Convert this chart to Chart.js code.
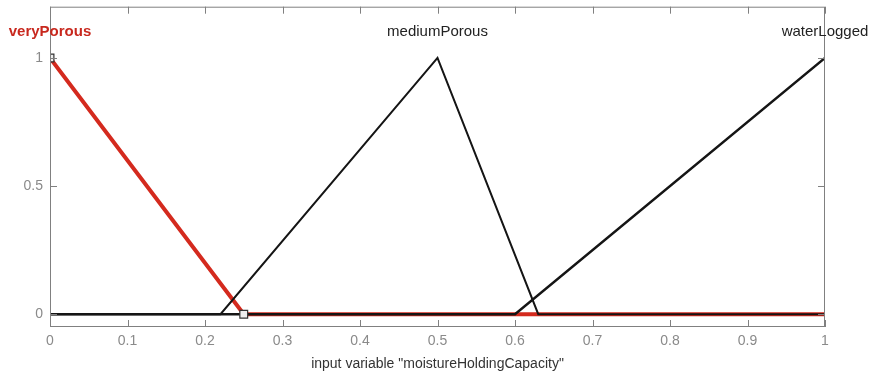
<!DOCTYPE html>
<html>
<head>
<meta charset="utf-8">
<script src="https://cdn.jsdelivr.net/npm/chart.js@4"></script>
<style>
  body { margin: 0; background: #fff; }
  canvas { display: block; }
</style>
</head>
<body>
<canvas id="chart_mf" width="875" height="377"></canvas>
<script>
// membership function names and their peak positions (for labels)
const mfNames = ["veryPorous", "mediumPorous", "waterLogged"];
const mfPeaks = [0, 0.5, 1];

// breakpoints of each membership function
const veryPorousX = [0, 0.25, 1];
const veryPorousY = [1, 0, 0];
const mediumPorousX = [0, 0.22, 0.5, 0.63, 1];
const mediumPorousY = [0, 0, 1, 0, 0];
const waterLoggedX = [0, 0.6, 1];
const waterLoggedY = [0, 0, 1];

// selection handles on the active function
const handleX = [0, 0.25];
const handleY = [1, 0];

const xTicks = [0, 0.1, 0.2, 0.3, 0.4, 0.5, 0.6, 0.7, 0.8, 0.9, 1];
const yTicks = [0, 0.5, 1];
const xTitle = 'input variable "moistureHoldingCapacity"';

const RED = "#d42a1e";
const FRAME = "#808080";

function toPoints(xs, ys) {
    return xs.map((x, i) => ({ x: x, y: ys[i] }));
}

// draws the boxed frame with inward ticks and the MF names
const framePlugin = {
    id: "frame",
    afterDraw(chart) {
        let ctx = chart.ctx;
        let a = chart.chartArea;
        let xs = chart.scales.x;
        let ys = chart.scales.y;
        let len = 7;

        ctx.save();
        ctx.strokeStyle = FRAME;
        ctx.lineWidth = 1;
        ctx.strokeRect(a.left + 0.5, a.top + 0.5, a.right - a.left - 1, a.bottom - a.top - 1);

        ctx.beginPath();
        xTicks.forEach(v => {
            let px = Math.round(xs.getPixelForValue(v)) + 0.5;
            ctx.moveTo(px, a.bottom);
            ctx.lineTo(px, a.bottom - len);
            ctx.moveTo(px, a.top);
            ctx.lineTo(px, a.top + len);
        });
        yTicks.forEach(v => {
            let py = Math.round(ys.getPixelForValue(v)) + 0.5;
            ctx.moveTo(a.left, py);
            ctx.lineTo(a.left + len, py);
            ctx.moveTo(a.right, py);
            ctx.lineTo(a.right - len, py);
        });
        ctx.stroke();

        ctx.textAlign = "center";
        ctx.textBaseline = "middle";
        mfNames.forEach((name, i) => {
            let px = xs.getPixelForValue(mfPeaks[i]);
            let py = ys.getPixelForValue(1.1);
            if (i === 0) {
                ctx.font = "bold 15px 'Liberation Sans', Arial, sans-serif";
                ctx.fillStyle = "#c8281e";
            } else {
                ctx.font = "15px 'Liberation Sans', Arial, sans-serif";
                ctx.fillStyle = "#222";
            }
            ctx.fillText(name, px, py);
        });
        ctx.restore();
    }
};

let ctx = document.getElementById("chart_mf").getContext("2d");
new Chart(ctx, {
    type: "line",
    data: {
        datasets: [
            {
                label: "handles",
                type: "scatter",
                data: toPoints(handleX, handleY),
                showLine: false,
                pointStyle: "rect",
                pointRadius: 5.5,
                borderWidth: 1.2,
                borderColor: "#333",
                backgroundColor: "#eeeeee",
                order: 0
            },
            {
                label: mfNames[1],
                data: toPoints(mediumPorousX, mediumPorousY),
                borderColor: "#151515",
                borderWidth: 2,
                pointRadius: 0,
                order: 1
            },
            {
                label: mfNames[2],
                data: toPoints(waterLoggedX, waterLoggedY),
                borderColor: "#151515",
                borderWidth: 2.5,
                pointRadius: 0,
                order: 1
            },
            {
                label: mfNames[0],
                data: toPoints(veryPorousX, veryPorousY),
                borderColor: RED,
                borderWidth: 4,
                pointRadius: 0,
                order: 2
            }
        ]
    },
    options: {
        responsive: false,
        animation: false,
        devicePixelRatio: 1,
        layout: { padding: { top: 6, right: 50, left: 0, bottom: 0 } },
        plugins: { legend: { display: false }, tooltip: { enabled: false } },
        scales: {
            x: {
                type: "linear",
                min: 0,
                max: 1,
                afterFit: s => { s.height = 50; s.paddingLeft = 0; s.paddingRight = 0; },
                afterBuildTicks: s => { s.ticks = xTicks.map(v => ({ value: v })); },
                grid: { display: false, drawTicks: false },
                border: { display: false },
                ticks: {
                    padding: 6,
                    color: "#8a8a8a",
                    font: { size: 14, family: "'Liberation Sans', Arial, sans-serif" },
                    callback: v => String(Math.round(v * 10) / 10)
                },
                title: {
                    display: true,
                    text: xTitle,
                    color: "#333",
                    font: { size: 14, family: "'Liberation Sans', Arial, sans-serif" },
                    padding: { top: 2, bottom: 4 }
                }
            },
            y: {
                type: "linear",
                min: -0.05,
                max: 1.2,
                afterFit: s => { s.width = 50; s.paddingTop = 0; s.paddingBottom = 0; },
                afterBuildTicks: s => { s.ticks = yTicks.map(v => ({ value: v })); },
                grid: { display: false, drawTicks: false },
                border: { display: false },
                ticks: {
                    padding: 7,
                    color: "#8a8a8a",
                    font: { size: 14, family: "'Liberation Sans', Arial, sans-serif" },
                    callback: v => String(v)
                }
            }
        }
    },
    plugins: [framePlugin]
});
</script>
</body>
</html>
